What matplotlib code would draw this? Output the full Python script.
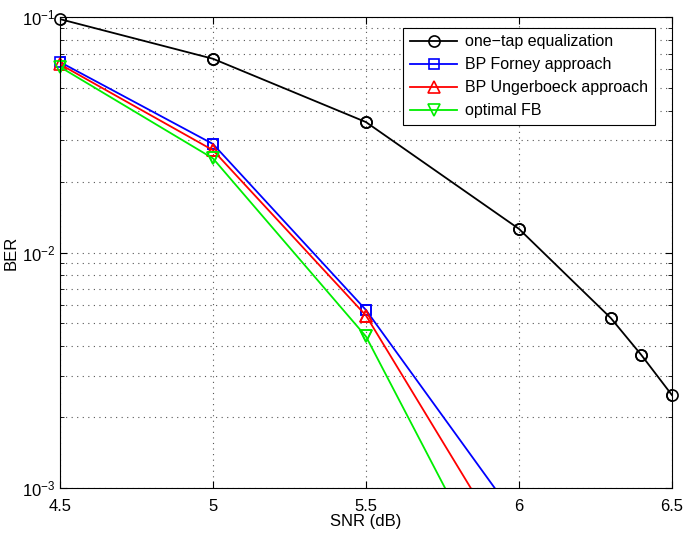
import numpy as np
import matplotlib
matplotlib.use('Agg')
import matplotlib.pyplot as plt

plt.rcParams['font.family'] = ['Liberation Sans', 'DejaVu Sans']

snr_onetap = [4.5, 5.0, 5.5, 6.0, 6.3, 6.4, 6.5]
ber_onetap = [0.098, 0.0665, 0.0358, 0.0126, 0.00527, 0.00367, 0.00248]

snr_bp = [4.5, 5.0, 5.5, 6.0]
ber_forney = [0.0644, 0.0289, 0.0057, 0.00072]
ber_ungerboeck = [0.0630, 0.0272, 0.0054, 0.00046]
ber_optimal = [0.0614, 0.0251, 0.0044, 0.00025]

YMIN, YMAX = 1e-3, 1e-1

fig = plt.figure(figsize=(6.85, 5.33), dpi=100)
ax = fig.add_axes([0.0876, 0.0844, 0.8934, 0.8836])

series = [
    (snr_onetap, ber_onetap, 'o', 'black', 8, 'one\u2212tap equalization'),
    (snr_bp, ber_forney, 's', 'blue', 7, 'BP Forney approach'),
    (snr_bp, ber_ungerboeck, '^', 'red', 8, 'BP Ungerboeck approach'),
    (snr_bp, ber_optimal, 'v', '#00ee00', 8, 'optimal FB'),
]

for x, y, mk, col, ms, lab in series:
    ax.semilogy(x, y, '-', marker=mk, color=col, lw=1.3, ms=ms,
                mfc='none', mew=1.2, label=lab)
    # markers on the frame are drawn whole, as in the original
    x = np.array(x)
    y = np.array(y)
    keep = (y >= YMIN) & (y <= YMAX)
    ax.plot(x[keep], y[keep], linestyle='none', marker=mk, color=col, ms=ms,
            mfc='none', mew=1.2, clip_on=False)

ax.set_xlim(4.5, 6.5)
ax.set_ylim(YMIN, YMAX)
ax.set_xticks([4.5, 5, 5.5, 6, 6.5])
ax.set_xticklabels(['4.5', '5', '5.5', '6', '6.5'])
ax.grid(True, which='major', linestyle=(0, (1, 4)), color='#555555', lw=0.8)
ax.grid(True, which='minor', axis='y', linestyle=(0, (1, 4)), color='#555555', lw=0.8)
ax.tick_params(which='both', direction='in', top=True, right=True, labelsize=12)
ax.tick_params(axis='x', which='major', pad=8)
ax.tick_params(which='major', length=5)
ax.tick_params(which='minor', length=3)
ax.set_xlabel('SNR (dB)', fontsize=12, labelpad=0)
ax.set_ylabel('BER', fontsize=12, labelpad=2)

leg = ax.legend(loc='upper right', bbox_to_anchor=(0.972, 0.977), borderaxespad=0,
                fontsize=11.5, fancybox=False, edgecolor='black', framealpha=1,
                handlelength=3.0, handletextpad=0.5, borderpad=0.4, labelspacing=0.5)
leg.get_frame().set_linewidth(0.8)

fig.savefig('out.png', dpi=100)
